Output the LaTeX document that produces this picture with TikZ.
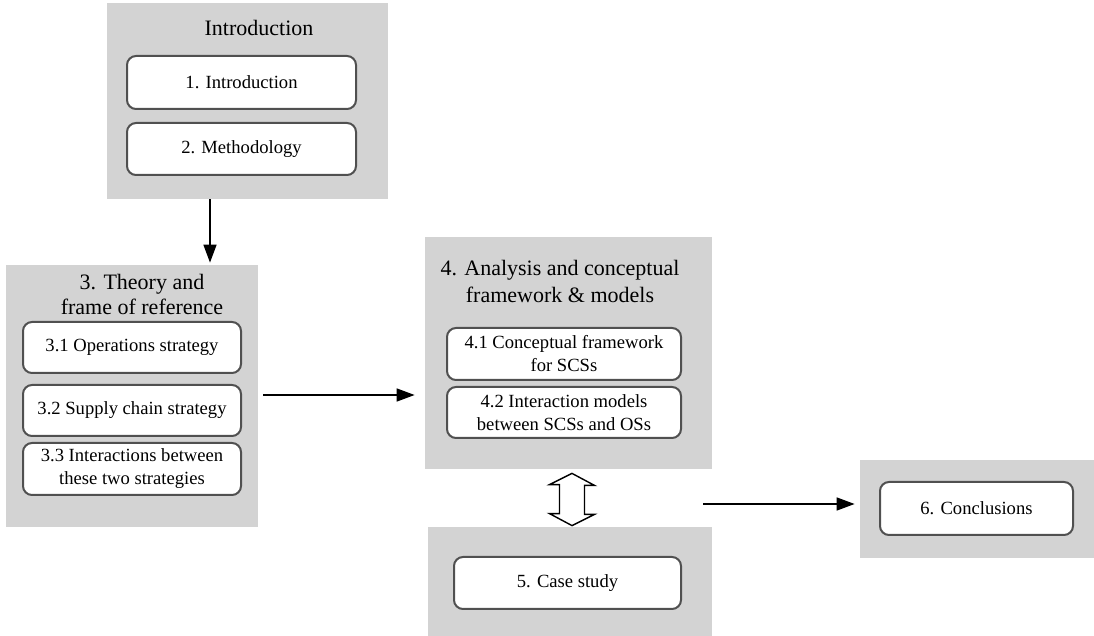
\documentclass[tikz,border=0pt]{standalone}
\usepackage{fontspec}
\setmainfont{Liberation Serif}
\usetikzlibrary{arrows.meta}
\definecolor{panelgray}{RGB}{211,211,211}
\definecolor{edgegray}{RGB}{80,80,80}
\tikzset{
  panel/.style={fill=panelgray, draw=none, inner sep=0pt},
  title/.style={font=\fontsize{11}{12.5}\selectfont, align=center, inner sep=0pt},
  sub/.style={draw=edgegray, line width=1pt, fill=white, rounded corners=4.5pt,
    font=\fontsize{9.3}{11.5}\selectfont, align=center, inner sep=1pt},
  arr/.style={line width=0.8pt, -{Triangle[length=9pt,width=6.5pt]}},
}
\begin{document}
\begin{tikzpicture}[x=0.5pt, y=-0.5pt]
\useasboundingbox (0,0) rectangle (1094,636);

% panels
\node[panel, minimum width=140.5pt, minimum height=98pt] (intro) at (247.5,101) {};
\node[panel, minimum width=126pt, minimum height=131pt] (theory) at (132,396) {};
\node[panel, minimum width=143.5pt, minimum height=116pt] (analysis) at (568.5,353) {};
\node[panel, minimum width=142pt, minimum height=54.5pt] (case) at (570,581.5) {};
\node[panel, minimum width=117pt, minimum height=49pt] (concl) at (977,509) {};

% panel titles
\node[title] (tintro) at (259,28) {Introduction};
\node[title] (ttheory) at (142,294.5) {3. Theory and\\frame of reference};
\node[title, font=\fontsize{11}{13.5}\selectfont] (tanalysis) at (560,281.5) {4. Analysis and conceptual\\framework \& models};

% chapter boxes
\node[sub, minimum width=114.5pt, minimum height=26.5pt] (b1) at (241.5,82.5) {1. Introduction};
\node[sub, minimum width=114.5pt, minimum height=26pt] (b2) at (241.5,149) {2. Methodology};
\node[sub, minimum width=109pt, minimum height=25.5pt] (b31) at (132,347.5) {3.1 Operations strategy};
\node[sub, minimum width=109pt, minimum height=25.5pt] (b32) at (132,410.5) {3.2 Supply chain strategy};
\node[sub, minimum width=109pt, minimum height=26pt] (b33) at (132,469) {3.3 Interactions between\\these two strategies};
\node[sub, minimum width=117pt, minimum height=26pt] (b41) at (564,354) {4.1 Conceptual framework\\for SCSs};
\node[sub, minimum width=117pt, minimum height=25.5pt] (b42) at (564,412.5) {4.2 Interaction models\\between SCSs and OSs};
\node[sub, minimum width=113.5pt, minimum height=26pt] (b5) at (567.5,583) {5. Case study};
\node[sub, minimum width=96.5pt, minimum height=26.5pt] (b6) at (976.5,508.5) {6. Conclusions};

% connectors
\coordinate (xdown) at (210,0);
\draw[arr, shorten >=1pt] (intro.south -| xdown) -- (theory.north -| xdown);

\coordinate (yright) at (0,395);
\draw[arr, shorten <=2.5pt, shorten >=5pt] (theory.east |- yright) -- (analysis.west |- yright);

\coordinate (cstart) at (703,504);
\draw[arr, shorten >=2.5pt] (cstart) -- (concl.west |- cstart);

% two-way hollow arrow between analysis and case study
\coordinate (xdbl) at (572,0);
\draw[draw=black, line width=0.7pt, fill=white, line join=miter]
  ([yshift=-2pt]analysis.south -| xdbl) -- ++(22.5,12) -- ++(-10,0) -- ++(0,29) -- ++(10,0)
  -- ([yshift=0.5pt]case.north -| xdbl) -- ++(-22.5,-12) -- ++(10,0) -- ++(0,-29) -- ++(-10,0) -- cycle;
\end{tikzpicture}
\end{document}
